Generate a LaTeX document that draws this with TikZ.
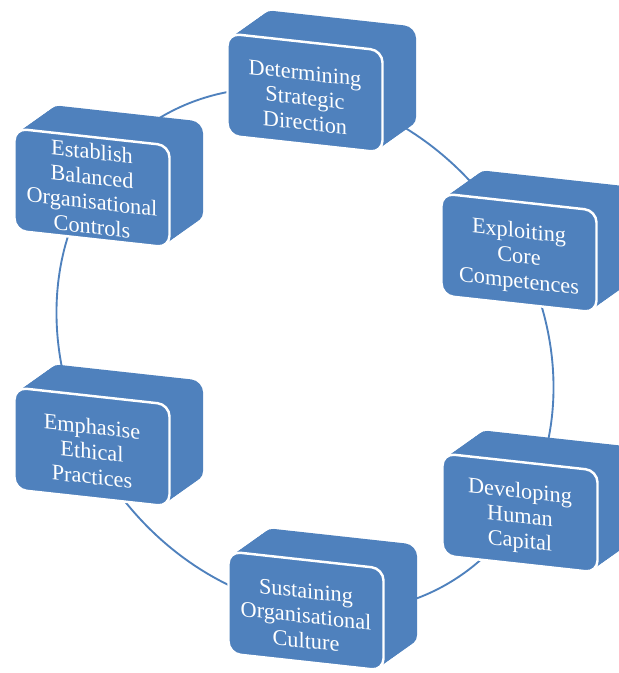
\documentclass[tikz,border=0pt]{standalone}
\usepackage{fontspec}
\setmainfont{Liberation Serif}
\definecolor{boxblue}{RGB}{79,129,189}
\tikzset{
  ring/.style={draw=boxblue, line width=1.6pt},
  back/.style={fill=boxblue, rounded corners=0.36cm},
  front/.style={fill=boxblue, draw=white, line width=2.1pt, rounded corners=0.36cm,
    minimum width=4.65cm, minimum height=3.06cm, inner sep=0pt, text=white,
    align=center, font=\fontsize{19}{21.3}\selectfont, transform shape},
}
\newcommand{\solidbox}[4][21pt]{%
  \begin{scope}[shift={#3}, yslant=-0.11]
    \foreach \k in {16,15,...,1}
      \fill[back] ({\k*2.1-77.5},{-\k*1.72-51}) rectangle ++(155,102);
    \node[front] (#2) at (0,0) {\rule{0pt}{#1}#4};
  \end{scope}}

\begin{document}
\begin{tikzpicture}[x=0.03cm, y=-0.03cm]
\useasboundingbox (0,0) rectangle (619,673);
\clip (0,0) rectangle (619,673);
\draw[ring, shift={(305,350)}, rotate=-55] (0,0) ellipse [x radius=274, y radius=235];
\solidbox{Dir}{(305,93)}{Determining\\Strategic\\Direction}
\solidbox{Comp}{(519,253)}{Exploiting\\Core\\Competences}
\solidbox{Cap}{(520,513)}{Developing\\Human\\Capital}
\solidbox{Cult}{(306,611)}{Sustaining\\Organisational\\Culture}
\solidbox{Eth}{(92,447)}{Emphasise\\Ethical\\Practices}
\solidbox[15pt]{Ctrl}{(92,188)}{Establish\\Balanced\\Organisational\\Controls}
\end{tikzpicture}
\end{document}
